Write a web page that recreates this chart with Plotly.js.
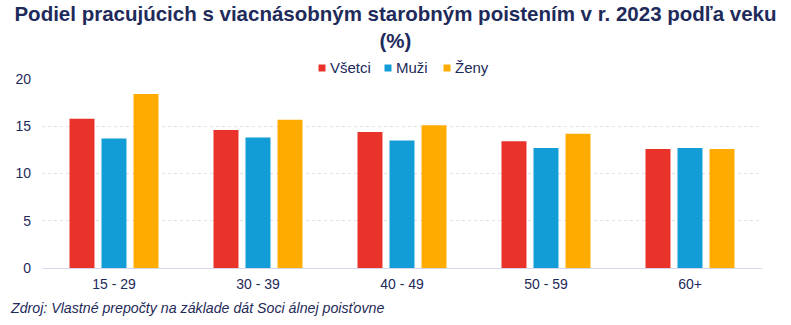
<!DOCTYPE html>
<html>
<head>
<meta charset="utf-8">
<script src="https://cdn.plot.ly/plotly-3.0.1.min.js"></script>
<style>html,body{margin:0;padding:0;background:#fff;}#chart{width:791px;height:325px;}</style>
</head>
<body>
<div id="chart"></div>
<script>
const categories = ["15 - 29", "30 - 39", "40 - 49", "50 - 59", "60+"];
const vsetci = [15.8, 14.6, 14.4, 13.4, 12.6];
const muzi = [13.7, 13.8, 13.5, 12.7, 12.7];
const zeny = [18.4, 15.7, 15.1, 14.2, 12.6];
const seriesNames = ["Všetci", "Muži", "Ženy"];
const seriesColors = ["#E8322A", "#129DD6", "#FFAB00"];
const yTicks = [0, 5, 10, 15, 20];

const navy = "#1E2A5A";
const font = "Liberation Sans, Arial, sans-serif";
const allSeries = [vsetci, muzi, zeny];

const traces = allSeries.map((vals, i) => ({
  type: "bar",
  x: categories,
  y: vals,
  name: seriesNames[i],
  marker: { color: seriesColors[i], line: { width: 0 } },
  hoverinfo: "x+y+name",
  showlegend: false
}));

// Legend (custom, compact like the reference)
const plotL = 42, plotW = 720, plotB = 268, plotH = 189;
const px = v => (v - plotL) / plotW;
const py = v => (plotB - v) / plotH;
const legendSquareX = [322, 388, 447];
const legendY = 67;
const shapes = seriesNames.map((n, i) => ({
  type: "rect", xref: "paper", yref: "paper",
  x0: px(legendSquareX[i] - 3.5), x1: px(legendSquareX[i] + 3.5),
  y0: py(legendY + 4.5), y1: py(legendY - 2.5),
  fillcolor: seriesColors[i], line: { width: 0 }
}));
const legendAnnots = seriesNames.map((n, i) => ({
  text: n, xref: "paper", yref: "paper",
  x: px(legendSquareX[i] + 6), xanchor: "left",
  y: py(legendY), yanchor: "middle",
  showarrow: false,
  font: { family: font, size: 15, color: navy }
}));

const layout = {
  width: 791,
  height: 325,
  margin: { l: 42, r: 29, t: 79, b: 57 },
  paper_bgcolor: "#ffffff",
  plot_bgcolor: "#ffffff",
  font: { family: font, color: navy, size: 14 },
  title: {
    text: "<b>Podiel pracujúcich s viacnásobným starobným poistením v r. 2023 podľa veku<br>(%)</b>",
    font: { family: font, size: 20.5, color: navy },
    x: 0.5, xanchor: "center",
    y: 0.935, yanchor: "top", yref: "container"
  },
  barmode: "group",
  bargap: 0.333,
  bargroupgap: 0.22,
  showlegend: false,
  xaxis: {
    type: "category",
    tickfont: { family: font, size: 14, color: navy },
    showgrid: false,
    showline: false,
    ticks: "",
    zeroline: false,
    ticklabelstandoff: 6
  },
  yaxis: {
    range: [0, 20],
    tickvals: yTicks,
    ticktext: yTicks.map(String),
    tickfont: { family: font, size: 14, color: navy },
    showgrid: true,
    gridcolor: "#dde2ee",
    griddash: "dot",
    gridwidth: 1,
    zeroline: true,
    zerolinecolor: "#d4d9e8",
    zerolinewidth: 1,
    ticks: "",
    ticklabelstandoff: 10,
    showline: false
  },
  shapes: shapes,
  annotations: legendAnnots.concat([{
    text: "<i>Zdroj: Vlastné prepočty na základe dát Soci álnej poisťovne</i>",
    xref: "paper", yref: "paper",
    x: px(8), xanchor: "left",
    y: py(308), yanchor: "middle",
    showarrow: false,
    font: { family: font, size: 14.2, color: navy }
  }])
};

Plotly.newPlot("chart", traces, layout, { staticPlot: true, displayModeBar: false });
</script>
</body>
</html>
